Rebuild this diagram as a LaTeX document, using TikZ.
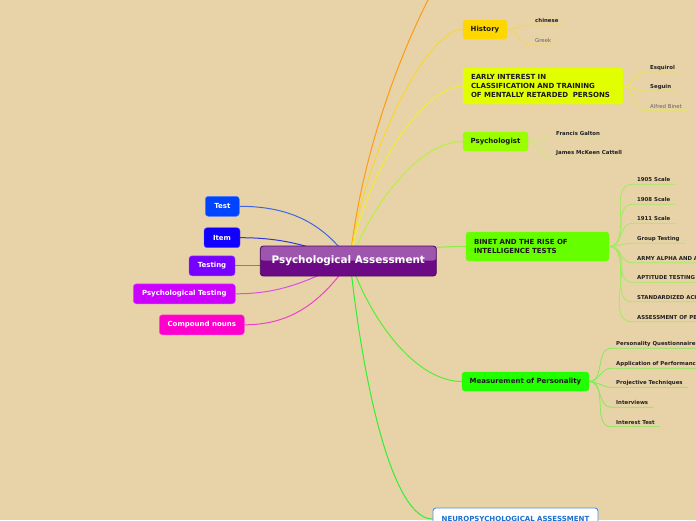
\documentclass[tikz,border=0pt]{standalone}
\usepackage{fontspec}
\setmainfont{DejaVu Sans}
\usetikzlibrary{calc}
\definecolor{bgc}{HTML}{E8D3A8}
\definecolor{cTest}{HTML}{0044FF}
\definecolor{cItem}{HTML}{1100FF}
\definecolor{cTesting}{HTML}{7700FF}
\definecolor{cPTest}{HTML}{CC00FF}
\definecolor{cComp}{HTML}{FF00CC}
\definecolor{lTest}{HTML}{3F66E0}
\definecolor{lItem}{HTML}{3535D8}
\definecolor{lTesting}{HTML}{9A60F0}
\definecolor{lPTest}{HTML}{DA50E0}
\definecolor{lComp}{HTML}{F040CC}
\definecolor{cHist}{HTML}{FFD700}
\definecolor{cEarly}{HTML}{E2FF00}
\definecolor{cPsy}{HTML}{99FF00}
\definecolor{cBinet}{HTML}{66FF00}
\definecolor{cMeas}{HTML}{22FF00}
\definecolor{lOrange}{HTML}{FF9A10}
\definecolor{lHist}{HTML}{F8D830}
\definecolor{lEarly}{HTML}{EEEE30}
\definecolor{lPsy}{HTML}{B8F040}
\definecolor{lBinet}{HTML}{88EE44}
\definecolor{lMeas}{HTML}{55EE33}
\definecolor{lNeuro}{HTML}{33EE33}
\definecolor{sHist}{HTML}{F2D65A}
\definecolor{sEarly}{HTML}{E6E65A}
\definecolor{sPsy}{HTML}{C8EC70}
\definecolor{sBinet}{HTML}{A0EC60}
\definecolor{sMeas}{HTML}{80EC58}
\definecolor{pTop}{HTML}{9E55AE}
\definecolor{pBot}{HTML}{6C0A86}
\definecolor{pBorder}{HTML}{4A0A5C}
\definecolor{nBlue}{HTML}{4A90E2}
\definecolor{nText}{HTML}{1A6FD0}
\pgfdeclarelayer{background}
\pgfsetlayers{background,main}
\begin{document}
\begin{tikzpicture}[x=1pt,y=-1pt,
  box/.style={rounded corners=3pt, inner sep=0pt, minimum height=19pt,
    font=\fontsize{7}{8.7}\selectfont\bfseries},
  leftbox/.style={box, text=white, minimum height=20pt, draw=#1!70!white, fill=#1, line width=0.4pt},
  rightbox/.style={box, text=black!90, fill=#1, draw=#1},
  sub/.style={anchor=south west, inner xsep=5pt, inner ysep=2.3pt,
    font=\fontsize{5.4}{6}\selectfont\bfseries, text=black!88,
    text height=3.9pt, text depth=0pt},
  subr/.style={sub, font=\fontsize{5.4}{6}\selectfont, text=black!62},
  conn/.style={line width=1pt},
  sconn/.style={line width=0.8pt}
]
\useasboundingbox (0,0) rectangle (696,520);
\begin{pgfonlayer}{background}
\fill[bgc] (0,0) rectangle (696,520);
\end{pgfonlayer}

% central node
\node[rounded corners=3pt, minimum width=176pt, minimum height=30pt, inner sep=0pt,
  draw=pBorder, line width=0.8pt, fill=pBot, text=white,
  font=\fontsize{10.4}{12}\selectfont\bfseries,
  path picture={\fill[pTop] (path picture bounding box.north west) rectangle ($(path picture bounding box.east)+(0,-0.5)$);}]
  (pa) at (348.3,261) {Psychological Assessment};
\coordinate (hub) at (350,261);
\coordinate (offtop) at (436,-15);

% left nodes
\node[leftbox=cTest, minimum width=34pt] (test) at (222.3,206.3) {Test};
\node[leftbox=cItem, minimum width=36pt] (item) at (222,237.7) {Item};
\node[leftbox=cTesting, minimum width=46pt] (testing) at (212,265.8) {Testing};
\node[leftbox=cPTest, minimum width=102pt] (ptest) at (184.3,293.8) {Psychological Testing};
\node[leftbox=cComp, minimum width=85pt] (comp) at (201.8,324.8) {Compound nouns};

% right main nodes
\node[rightbox=cHist, minimum width=44pt] (hist) at (485,29.5) {History};
\node[rightbox=cEarly, minimum height=36pt, text width=144pt, inner xsep=8pt, align=left] (early) at (543,86)
  {EARLY INTEREST IN\\CLASSIFICATION AND TRAINING\\OF MENTALLY RETARDED\ \ PERSONS};
\node[rightbox=cPsy, minimum width=65pt] (psy) at (495.5,141.5) {Psychologist};
\node[rightbox=cBinet, minimum height=29pt, text width=127pt, inner xsep=8pt, align=left,
  font=\fontsize{7}{9}\selectfont\bfseries] (binet) at (537.5,246.5)
  {BINET AND THE RISE OF\\INTELLIGENCE TESTS};
\node[rightbox=cMeas, minimum width=127pt] (meas) at (525.5,381.5) {Measurement of Personality};
\node[box, fill=white, draw=nBlue, line width=0.9pt, text=nText, minimum width=165pt, minimum height=22pt]
  (neuro) at (515.5,519) {NEUROPSYCHOLOGICAL ASSESSMENT};

% sub items
\node[sub] (h1) at (530,25) {chinese\hspace{1pt}};
\node[subr] (h2) at (530,45) {Greek};
\node[sub] (e1) at (645,72) {Esquirol};
\node[sub] (e2) at (645,91) {Seguin};
\node[subr] (e3) at (645,110.7) {Alfred Binet};
\node[sub] (p1) at (551,137.7) {Francis Galton};
\node[sub] (p2) at (551,157.3) {James McKeen Cattell};
\node[sub] (b1) at (632,184.3) {1905 Scale};
\node[sub] (b2) at (632,204.3) {1908 Scale};
\node[sub] (b3) at (632,223.3) {1911 Scale};
\node[sub] (b4) at (632,243.3) {Group Testing};
\node[sub] (b5) at (632,262.7) {ARMY ALPHA AND ARMY BETA};
\node[sub] (b6) at (632,282.3) {APTITUDE TESTING};
\node[sub] (b7) at (632,301.7) {STANDARDIZED ACHIEVEMENT TESTS};
\node[sub] (b8) at (632,321.7) {ASSESSMENT OF PERSONALITY};
\node[sub] (m1) at (611,348.3) {Personality Questionnaires};
\node[sub] (m2) at (611,368.3) {Application of Performance Tests};
\node[sub] (m3) at (611,387.3) {Projective Techniques};
\node[sub] (m4) at (611,407.3) {Interviews};
\node[sub] (m5) at (611,426.7) {Interest Test};

\begin{pgfonlayer}{background}
% left connectors
\draw[conn, lTest] (test.east) to[out=0,in=125] (hub);
\draw[conn, lItem] (item.east) to[out=0,in=160] (hub);
\draw[conn, lTesting] (testing.east) -- (testing.east -| hub);
\draw[conn, lPTest] (ptest.east) to[out=0,in=-155] (hub);
\draw[conn, lComp] (comp.east) to[out=0,in=-125] (hub);
% right connectors
\draw[conn, lOrange] (hub) .. controls (360,160) and (400,50) .. (offtop);
\draw[conn, lHist] (hub) .. controls (362,160) and (425,29.5) .. (hist.west);
\draw[conn, lEarly] (hub) .. controls (365,170) and (425,86) .. (early.west);
\draw[conn, lPsy] (hub) .. controls (375,200) and (420,141.5) .. (psy.west);
\draw[conn, lBinet] (hub) .. controls (400,250) and (430,246.5) .. (binet.west);
\draw[conn, lMeas] (hub) .. controls (375,330) and (420,381.5) .. (meas.west);
\draw[conn, lNeuro] (hub) .. controls (365,400) and (395,519) .. (neuro.west);
% sub connectors
\foreach \s in {h1,h2}
  \draw[sconn, sHist] (hist.east) to[out=0,in=180] (\s.south west) -- (\s.south east);
\foreach \s in {e1,e2,e3}
  \draw[sconn, sEarly] (early.east) to[out=0,in=180] (\s.south west) -- (\s.south east);
\foreach \s in {p1,p2}
  \draw[sconn, sPsy] (psy.east) to[out=0,in=180] (\s.south west) -- (\s.south east);
\foreach \s in {b1,b2,b3,b4,b5,b6,b7,b8}
  \draw[sconn, sBinet] (binet.east) to[out=0,in=180] (\s.south west) -- (\s.south east);
\foreach \s in {m1,m2,m3,m4,m5}
  \draw[sconn, sMeas] (meas.east) to[out=0,in=180] (\s.south west) -- (\s.south east);
\end{pgfonlayer}
\end{tikzpicture}
\end{document}
